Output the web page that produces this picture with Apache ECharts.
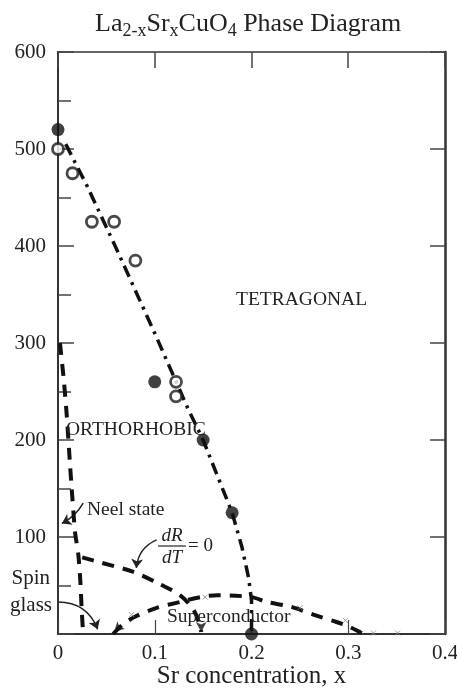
<!DOCTYPE html>
<html>
<head>
<meta charset="utf-8">
<script src="https://cdn.jsdelivr.net/npm/echarts@6/dist/echarts.min.js"></script>
<style>
html, body { margin: 0; padding: 0; background: #fff; }
#chart { width: 457px; height: 691px; }
</style>
</head>
<body>
<div id="chart"></div>
<script>
const serif = "'Liberation Serif', 'DejaVu Serif', serif";
const ink = '#222';

// axis ranges
const xMin = 0, xMax = 0.4, xStep = 0.1;
const yMin = 0, yMax = 600, yStep = 100;

// measured points
const filledPts = [[0, 520], [0.1, 260], [0.15, 200], [0.18, 125], [0.2, 0]];
const openPts = [[0, 500], [0.015, 475], [0.035, 425], [0.058, 425], [0.08, 385], [0.122, 260], [0.122, 245]];
const xMarkPts = [[0.076, 20], [0.152, 38], [0.25, 27], [0.297, 14], [0.326, 1], [0.351, 1]];

// phase boundaries
const orthoTetraLine = [[0.008, 505], [0.03, 462], [0.06, 398], [0.1, 310], [0.134, 233], [0.15, 200],
  [0.18, 125], [0.19, 90], [0.197, 58], [0.2, 35], [0.2, 0]];
const neelLine = [[0.002, 300], [0.006, 262], [0.009, 226], [0.0124, 175], [0.014, 152], [0.0176, 105],
  [0.021, 82], [0.023, 56], [0.0245, 25], [0.026, 0]];
const dRdTLine = [[0.025, 79], [0.043, 74], [0.078, 64], [0.102, 53], [0.126, 40], [0.14, 25], [0.147, 8], [0.148, 2]];
const scDome = [[0.057, 0], [0.066, 9], [0.08, 18], [0.102, 27], [0.126, 33], [0.147, 38], [0.165, 40],
  [0.2, 38], [0.216, 33], [0.241, 28], [0.264, 20], [0.286, 13], [0.3, 8], [0.31, 3], [0.315, 0]];

// pointer arrows
const spinGlassCurve = [[0, 33], [0.041, 5]];
const neelPointer = [[0.026, 135], [0.004, 114]];
const dRdTPointer = [[0.102, 97], [0.081, 68]];
const arrowTips = [[0.148, 2], [0.058, 2]];
const arrowAngles = [180, 135];

const chart = echarts.init(document.getElementById('chart'));

const axisLineStyle = { color: '#333', width: 2 };
const tickFont = { fontFamily: serif, fontSize: 21, color: ink };
const noteFont = { fontFamily: serif, fontSize: 19.5, fill: ink, verticalAlign: 'middle' };

const option = {
    animation: false,
    backgroundColor: '#fff',
    title: {
        left: 90,
        top: 3,
        text: '{m|La}{s|2-x}{m|Sr}{s|x}{m|CuO}{s|4}{m| Phase Diagram}',
        textStyle: {
            rich: {
                m: { fontFamily: serif, fontSize: 26, fontWeight: 'normal', color: ink },
                s: { fontFamily: serif, fontSize: 18, fontWeight: 'normal', color: ink, padding: [14, 0, 0, 0] }
            }
        }
    },
    grid: { left: 58, right: 12, top: 52, bottom: 57, outerBoundsMode: 'none' },
    xAxis: [{
        type: 'value', min: xMin, max: xMax, interval: xStep, position: 'bottom',
        axisLine: { show: true, onZero: false, lineStyle: axisLineStyle },
        axisTick: { show: true, inside: true, length: 14, lineStyle: { color: '#444', width: 1.2 } },
        splitLine: { show: false },
        axisLabel: Object.assign({ margin: 9 }, tickFont),
        name: 'Sr concentration, x',
        nameLocation: 'middle',
        nameGap: 30,
        nameMoveOverlap: false,
        nameTextStyle: { fontFamily: serif, fontSize: 25, color: ink }
    }, {
        type: 'value', min: xMin, max: xMax, interval: xStep, position: 'top',
        axisLine: { show: true, onZero: false, lineStyle: { color: '#333', width: 1.5 } },
        axisTick: { show: true, inside: true, length: 16, lineStyle: { color: '#444', width: 1.5 } },
        splitLine: { show: false },
        axisLabel: { show: false }
    }],
    yAxis: [{
        type: 'value', min: yMin, max: yMax, interval: yStep, position: 'left',
        axisLine: { show: true, onZero: false, lineStyle: axisLineStyle },
        axisTick: { show: true, inside: true, length: 16, lineStyle: { color: '#444', width: 1.5 } },
        minorTick: { show: true, splitNumber: 2, length: 13, lineStyle: { color: '#444', width: 1.5 } },
        splitLine: { show: false },
        minorSplitLine: { show: false },
        axisLabel: Object.assign({ margin: 12, showMinLabel: false }, tickFont)
    }, {
        type: 'value', min: yMin, max: yMax, interval: yStep, position: 'right',
        axisLine: { show: true, onZero: false, lineStyle: { color: '#333', width: 2.5 } },
        axisTick: { show: true, inside: true, length: 15, lineStyle: { color: '#444', width: 1.5 } },
        splitLine: { show: false },
        axisLabel: { show: false }
    }],
    series: [{
        name: 'ortho-tetra', type: 'line', data: orthoTetraLine, symbol: 'none',
        lineStyle: { color: '#111', width: 3.5, type: [12, 6, 3, 6] }
    }, {
        name: 'neel', type: 'line', data: neelLine, symbol: 'none', smooth: 0.2,
        lineStyle: { color: '#111', width: 4, type: [12, 9] }
    }, {
        name: 'dRdT', type: 'line', data: dRdTLine, symbol: 'none', smooth: 0.3,
        lineStyle: { color: '#111', width: 4, type: [12, 9] }
    }, {
        name: 'dome', type: 'line', data: scDome, symbol: 'none', smooth: 0.3,
        lineStyle: { color: '#111', width: 4, type: [12, 9] }
    }, {
        name: 'filled', type: 'scatter', data: filledPts, symbol: 'circle', symbolSize: 13,
        itemStyle: { color: '#111' }, z: 5
    }, {
        name: 'open', type: 'scatter', data: openPts, symbol: 'circle', symbolSize: 11,
        itemStyle: { color: '#fff', borderColor: '#1a1a1a', borderWidth: 2.8 }, z: 5
    }, {
        name: 'x', type: 'scatter', data: xMarkPts, symbol: 'path://M0,0L10,10M10,0L0,10', symbolSize: 5,
        itemStyle: { color: 'none', borderColor: '#888', borderWidth: 1 }, z: 4
    }, {
        name: 'pointers', type: 'lines', coordinateSystem: 'cartesian2d',
        symbol: ['none', 'arrow'], symbolSize: 9,
        lineStyle: { color: '#222', width: 1.5, curveness: 0.3, opacity: 1 },
        data: [
            { coords: spinGlassCurve, lineStyle: { curveness: 0.34 } },
            { coords: neelPointer, lineStyle: { curveness: 0.15 } },
            { coords: dRdTPointer, lineStyle: { curveness: -0.3 } }
        ]
    }, {
        name: 'tips', type: 'scatter', symbol: 'arrow', symbolSize: [8, 10],
        itemStyle: { color: '#111' },
        data: arrowTips.map((p, i) => ({ value: p, symbolRotate: arrowAngles[i] }))
    }],
    graphic: [
        { type: 'text', x: 236, y: 300, style: Object.assign({ text: 'TETRAGONAL' }, noteFont) },
        { type: 'text', x: 66, y: 430, z: 10, style: Object.assign({ text: 'ORTHORHOBIC' }, noteFont) },
        { type: 'text', x: 87, y: 510, style: Object.assign({ text: 'Neel state' }, noteFont) },
        { type: 'text', x: 167, y: 617, z: 10, style: Object.assign({ text: 'Superconductor' }, noteFont) },
        { type: 'text', x: 50, y: 578, style: { text: 'Spin', fontFamily: serif, fontSize: 21, fill: ink, align: 'right', verticalAlign: 'middle' } },
        { type: 'text', x: 52, y: 605, style: { text: 'glass', fontFamily: serif, fontSize: 21, fill: ink, align: 'right', verticalAlign: 'middle' } },
        { type: 'text', x: 172, y: 536, style: { text: 'dR', fontFamily: serif, fontStyle: 'italic', fontSize: 19, fill: ink, align: 'center', verticalAlign: 'middle' } },
        { type: 'line', shape: { x1: 158, y1: 546, x2: 186, y2: 546 }, style: { stroke: ink, lineWidth: 1.2 } },
        { type: 'text', x: 172, y: 558, style: { text: 'dT', fontFamily: serif, fontStyle: 'italic', fontSize: 19, fill: ink, align: 'center', verticalAlign: 'middle' } },
        { type: 'text', x: 188, y: 546, style: { text: '= 0', fontFamily: serif, fontSize: 19, fill: ink, verticalAlign: 'middle' } }
    ]
};

chart.setOption(option);
</script>
</body>
</html>
